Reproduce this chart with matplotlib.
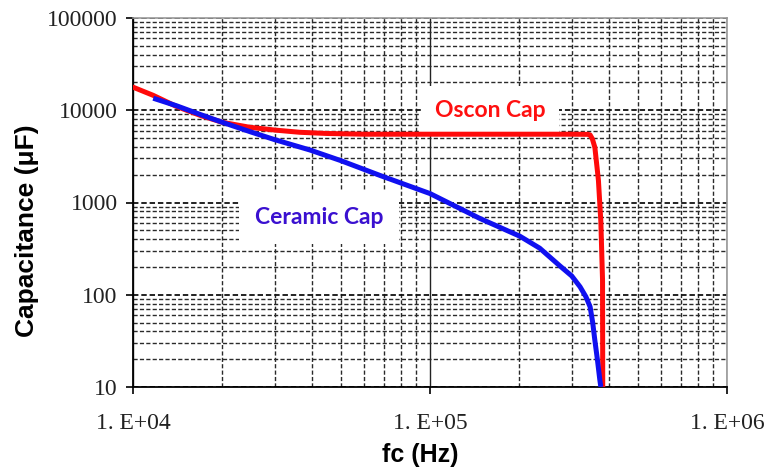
import numpy as np
import matplotlib
matplotlib.use("Agg")
import matplotlib.pyplot as plt
from matplotlib.ticker import FixedLocator, FixedFormatter, LogLocator, NullFormatter

# ---- data ----
oscon_f = [1.0e4, 1.17e4, 1.4e4, 1.7e4, 2.0e4, 2.47e4, 3.0e4, 3.64e4, 4.5e4, 6e4, 1e5,
           2e5, 3.0e5, 3.4e5, 3.46e5, 3.52e5, 3.59e5, 3.69e5, 3.76e5, 3.81e5, 3.816e5]
oscon_c = [17800, 14500, 11000, 8700, 7400, 6540, 6100, 5770, 5600, 5500, 5500,
           5500, 5500, 5480, 5400, 4900, 3960, 1750, 625, 145, 10]

ceramic_f = [1.17e4, 1.4e4, 1.7e4, 2.0e4, 2.5e4, 3.0e4, 3.95e4, 5e4, 6.8e4, 1e5, 1.47e5,
             2.01e5, 2.34e5, 2.74e5, 3.0e5, 3.2e5, 3.35e5, 3.46e5, 3.53e5, 3.59e5, 3.66e5,
             3.73e5, 3.76e5]
ceramic_c = [13500, 11200, 8900, 7400, 5800, 4800, 3700, 2850, 1960, 1250, 673,
             430, 320, 205, 160, 122, 95, 74, 50, 32, 20,
             12, 10]

x_ticks = [1e4, 1e5, 1e6]
x_tick_labels = ["1. E+04", "1. E+05", "1. E+06"]
y_ticks = [10, 100, 1000, 10000, 100000]
y_tick_labels = ["10", "100", "1000", "10000", "100000"]

series_labels = ["Oscon Cap", "Ceramic Cap"]
x_label = "fc (Hz)"
y_label = "Capacitance (\u03bcF)"

# ---- figure ----
fig = plt.figure(figsize=(7.66, 4.68), dpi=100)
ax = fig.add_axes([133/766, 1-387/468, (727-133)/766, (387-18)/468])
ax.set_xscale("log")
ax.set_yscale("log")
ax.set_xlim(1e4, 1e6)
ax.set_ylim(10, 1e5)

dash = (0, (3.0, 1.6))
# grid
ax.xaxis.set_minor_locator(LogLocator(base=10, subs=np.arange(2, 10)))
ax.yaxis.set_minor_locator(LogLocator(base=10, subs=np.arange(2, 10)))
ax.xaxis.set_minor_formatter(NullFormatter())
ax.yaxis.set_minor_formatter(NullFormatter())
ax.grid(True, which="major", axis="x", color="#222222", linestyle="-", linewidth=1.0, zorder=0)
ax.grid(True, which="minor", axis="x", color="#2a2a2a", linestyle=dash, linewidth=1.0, zorder=0)
ax.grid(True, which="major", axis="y", color="#111111", linestyle=dash, linewidth=1.3, zorder=0)
ax.grid(True, which="minor", axis="y", color="#2a2a2a", linestyle=dash, linewidth=1.0, zorder=0)
ax.set_axisbelow(True)

# curves
ax.plot(oscon_f, oscon_c, color="#ff0a0a", linewidth=3.6, solid_capstyle="round",
        solid_joinstyle="round", zorder=5)
ax.plot(ceramic_f, ceramic_c, color="#1010f0", linewidth=3.6, solid_capstyle="butt",
        solid_joinstyle="round", zorder=6)

# labels in white boxes
ax.text(1.59e5, 1.0e4, series_labels[0], color="#ff1010", fontsize=16.5,
        fontweight="bold", family="Lato", ha="center", va="center", zorder=4,
        bbox=dict(facecolor="white", edgecolor="none", boxstyle="square,pad=0.6"))
ax.text(4.23e4, 690, series_labels[1], color="#3a10d0", fontsize=16.5,
        fontweight="bold", family="Lato", ha="center", va="center", zorder=4,
        bbox=dict(facecolor="white", edgecolor="none", boxstyle="square,pad=0.7"))

# ticks
ax.xaxis.set_major_locator(FixedLocator(x_ticks))
ax.xaxis.set_major_formatter(FixedFormatter(x_tick_labels))
ax.yaxis.set_major_locator(FixedLocator(y_ticks))
ax.yaxis.set_major_formatter(FixedFormatter(y_tick_labels))
ax.tick_params(which="major", direction="out", length=5, width=1.2, color="black",
               labelsize=17, pad=6)
ax.tick_params(which="minor", length=0)
ax.tick_params(axis="x", pad=14)
for lab in ax.get_xticklabels() + ax.get_yticklabels():
    lab.set_family("Liberation Serif")
    lab.set_color("#222222")

for s in ["left", "bottom"]:
    ax.spines[s].set_color("black")
    ax.spines[s].set_linewidth(1.3)
for s in ["top", "right"]:
    ax.spines[s].set_color("#999999")
    ax.spines[s].set_linewidth(1.2)

ax.set_xlabel(x_label, fontsize=18, fontweight="bold", family="Liberation Sans", va="center")
ax.set_ylabel(y_label, fontsize=19, fontweight="bold", family="Liberation Sans", va="center")
ax.xaxis.set_label_coords(0.483, -0.184)
ax.yaxis.set_label_coords(-0.178, 0.423)

fig.savefig("out.png", dpi=100, facecolor="white")
